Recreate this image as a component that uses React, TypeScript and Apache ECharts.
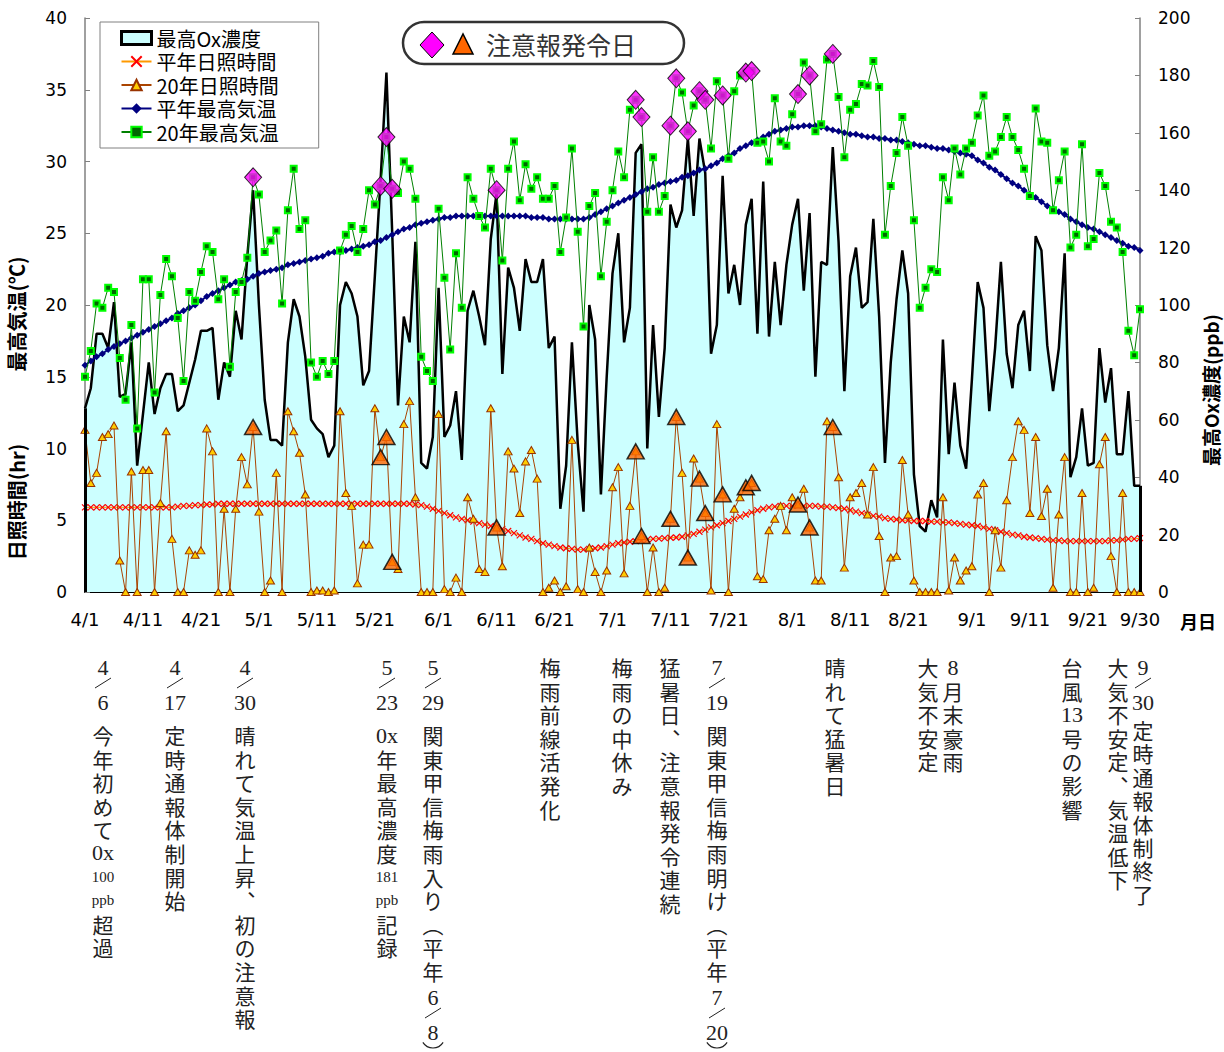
import React, { useEffect, useRef } from 'react';
import * as echarts from 'echarts';

// ---- categories (4/1 .. 9/30) ----
const monthLengths: [number, number][] = [[4, 30], [5, 31], [6, 30], [7, 31], [8, 31], [9, 30]];
const categories: string[] = [];
monthLengths.forEach(([m, n]) => { for (let d = 1; d <= n; d++) categories.push(`${m}/${d}`); });
const tickLabels = ['4/1', '4/11', '4/21', '5/1', '5/11', '5/21', '6/1', '6/11', '6/21', '7/1', '7/11', '7/21', '8/1', '8/11', '8/21', '9/1', '9/11', '9/21', '9/30'];

// ---- 最高Ox濃度 (ppb) ----
const ox = [
  64, 71, 90, 90, 85, 101, 68, 69, 87, 44,
  62, 80, 62, 71, 76, 76, 63, 65, 73, 81,
  91, 91, 92, 67, 80, 75, 98, 88, 117, 140,
  100, 67, 53, 53, 51, 87, 102, 96, 82, 60,
  57, 55, 47, 51, 100, 108, 104, 96, 72, 77,
  110, 144, 181, 125, 65, 96, 87, 122, 45, 43,
  54, 106, 54, 58, 70, 46, 98, 105, 96, 86,
  123, 139, 76, 113, 106, 91, 116, 108, 108, 116,
  85, 89, 29, 44, 87, 52, 28, 100, 88, 34,
  75, 111, 125, 87, 99, 153, 156, 50, 93, 61,
  85, 135, 127, 133, 158, 131, 158, 146, 83, 93,
  145, 104, 114, 100, 128, 137, 90, 143, 89, 115,
  93, 114, 128, 137, 105, 132, 75, 115, 114, 155,
  122, 70, 110, 120, 99, 101, 130, 96, 45, 80,
  102, 119, 104, 41, 23, 21, 32, 26, 88, 48,
  73, 51, 43, 74, 108, 99, 63, 85, 115, 83,
  71, 93, 98, 77, 124, 119, 86, 70, 85, 118,
  40, 47, 64, 44, 45, 85, 66, 78, 48, 48,
  70, 37, 37,
];

// ---- 平年日照時間 (hr) ----
const normSun = [
  5.9, 5.9, 5.9, 5.9, 5.9, 5.9, 5.9, 5.9, 5.9, 5.9,
  5.9, 5.9, 5.9, 5.9, 5.9, 5.9, 5.95, 6.0, 6.0, 6.05,
  6.05, 6.1, 6.1, 6.15, 6.15, 6.15, 6.15, 6.15, 6.15, 6.15,
  6.15, 6.15, 6.15, 6.15, 6.15, 6.15, 6.15, 6.15, 6.15, 6.15,
  6.15, 6.15, 6.15, 6.15, 6.15, 6.15, 6.15, 6.15, 6.15, 6.15,
  6.15, 6.15, 6.15, 6.15, 6.15, 6.15, 6.15, 6.1, 6.05, 5.95,
  5.8, 5.65, 5.5, 5.35, 5.2, 5.1, 5.0, 4.9, 4.8, 4.7,
  4.6, 4.5, 4.4, 4.25, 4.1, 3.95, 3.8, 3.7, 3.55, 3.4,
  3.3, 3.2, 3.1, 3.05, 3.0, 2.95, 2.95, 3.0, 3.05, 3.1,
  3.2, 3.3, 3.4, 3.45, 3.5, 3.55, 3.6, 3.65, 3.7, 3.72,
  3.75, 3.78, 3.8, 3.85, 3.95, 4.05, 4.2, 4.35, 4.5, 4.65,
  4.8, 4.95, 5.1, 5.25, 5.4, 5.55, 5.7, 5.8, 5.9, 5.95,
  6.0, 6.0, 6.0, 6.0, 6.0, 6.0, 6.0, 5.95, 5.95, 5.9,
  5.85, 5.8, 5.7, 5.6, 5.5, 5.4, 5.3, 5.25, 5.15, 5.1,
  5.05, 5.0, 5.0, 4.95, 4.95, 4.95, 4.9, 4.9, 4.85, 4.85,
  4.8, 4.75, 4.7, 4.65, 4.6, 4.5, 4.4, 4.3, 4.2, 4.1,
  4.0, 3.95, 3.85, 3.8, 3.75, 3.7, 3.65, 3.6, 3.6, 3.55,
  3.55, 3.55, 3.55, 3.55, 3.55, 3.55, 3.55, 3.6, 3.6, 3.65,
  3.7, 3.7, 3.75,
];

// ---- 20年日照時間 (hr) ----
const sun20 = [
  11.3, 7.6, 8.3, 10.8, 11.0, 11.6, 2.2, 0, 8.4, 0,
  8.5, 8.5, 0, 6.2, 11.2, 3.7, 0, 0, 2.9, 2.6,
  2.9, 11.4, 9.8, 0, 5.8, 0, 5.8, 9.4, 7.5, 11.5,
  5.6, 0, 0.8, 8.3, 0, 12.6, 11.2, 9.7, 6.8, 0,
  0.1, 0.1, 0, 0.1, 12.6, 6.9, 6.0, 0.6, 3.3, 3.3,
  12.8, 9.4, 10.8, 2.1, 1.6, 11.7, 13.3, 6.6, 0, 0,
  0, 12.4, 0.2, 0, 1.0, 0, 6.6, 5.1, 1.6, 1.4,
  12.8, 4.5, 1.8, 9.8, 8.6, 5.5, 9.1, 9.9, 7.9, 0,
  0.3, 0.8, 0, 0.4, 10.6, 0.2, 0, 3.1, 1.4, 0,
  1.5, 7.3, 8.7, 1.3, 6.0, 9.8, 3.9, 0, 3.1, 0,
  0.3, 5.1, 12.2, 8.3, 2.4, 9.3, 7.9, 5.5, 0.1, 11.7,
  6.8, 0, 5.8, 6.6, 7.3, 7.6, 1.1, 0.9, 4.3, 5.1,
  6.0, 4.3, 6.6, 6.1, 7.2, 4.5, 0.8, 0.8, 11.9, 11.5,
  8.0, 1.7, 6.6, 6.9, 7.6, 5.4, 8.7, 3.9, 0, 2.4,
  2.5, 9.2, 5.4, 0.8, 0, 0, 0, 0, 6.6, 0.1,
  2.4, 0.8, 1.5, 1.8, 6.8, 7.6, 0, 4.3, 1.7, 6.4,
  9.4, 11.9, 11.3, 5.5, 10.8, 5.3, 7.2, 0.3, 5.4, 9.4,
  0, 0, 6.9, 0, 0.3, 8.9, 10.8, 2.5, 0, 6.9,
  0, 0, 0,
];

// ---- 平年最高気温 (℃) ----
const normTemp = [
  15.8, 16.1, 16.4, 16.6, 16.9, 17.1, 17.3, 17.5, 17.7, 17.9,
  18.1, 18.3, 18.5, 18.7, 18.9, 19.1, 19.4, 19.6, 19.8, 20.0,
  20.3, 20.6, 20.8, 21.0, 21.2, 21.4, 21.6, 21.7, 21.8, 22.0,
  22.2, 22.3, 22.4, 22.5, 22.6, 22.8, 22.9, 23.0, 23.1, 23.2,
  23.3, 23.4, 23.6, 23.7, 23.7, 23.8, 23.9, 24.0, 24.1, 24.2,
  24.4, 24.5, 24.7, 24.9, 25.1, 25.3, 25.4, 25.6, 25.7, 25.8,
  25.9, 26.0, 26.1, 26.1, 26.2, 26.2, 26.2, 26.2, 26.2, 26.2,
  26.2, 26.2, 26.2, 26.2, 26.2, 26.2, 26.2, 26.1, 26.1, 26.1,
  26.0, 26.0, 26.0, 26.0, 26.0, 26.0, 26.0, 26.1, 26.3, 26.5,
  26.7, 26.9, 27.1, 27.3, 27.5, 27.7, 27.9, 28.1, 28.2, 28.4,
  28.5, 28.6, 28.7, 28.9, 29.0, 29.2, 29.4, 29.5, 29.7, 29.9,
  30.2, 30.4, 30.6, 30.9, 31.1, 31.3, 31.5, 31.7, 31.9, 32.1,
  32.2, 32.3, 32.4, 32.4, 32.5, 32.5, 32.5, 32.4, 32.3, 32.2,
  32.1, 32.0, 31.9, 31.9, 31.8, 31.7, 31.7, 31.6, 31.6, 31.5,
  31.5, 31.4, 31.3, 31.2, 31.1, 31.1, 31.0, 30.9, 30.9, 30.8,
  30.7, 30.6, 30.5, 30.4, 30.1, 29.9, 29.6, 29.4, 29.1, 28.8,
  28.5, 28.3, 28.0, 27.7, 27.5, 27.2, 26.9, 26.7, 26.5, 26.3,
  26.0, 25.8, 25.6, 25.4, 25.3, 25.1, 24.9, 24.7, 24.5, 24.3,
  24.1, 24.0, 23.8,
];

// ---- 20年最高気温 (℃) ----
const temp20 = [
  15.0, 16.8, 20.1, 19.8, 21.2, 20.9, 16.3, 13.4, 18.6, 11.4,
  21.8, 21.8, 13.9, 20.7, 23.2, 22.0, 19.1, 14.7, 20.9, 20.3,
  22.3, 24.1, 23.7, 20.4, 21.8, 15.7, 20.9, 21.6, 23.3, 28.9,
  27.7, 23.7, 24.5, 25.2, 20.1, 26.6, 29.5, 25.3, 25.9, 16.0,
  15.0, 16.1, 15.2, 16.1, 23.8, 24.9, 25.5, 23.7, 25.3, 28.0,
  27.0, 28.3, 31.7, 28.1, 27.8, 30.0, 29.5, 27.4, 16.4, 15.4,
  14.7, 26.7, 21.9, 16.9, 23.6, 19.8, 28.9, 27.4, 26.2, 25.4,
  29.5, 28.0, 23.1, 29.5, 31.4, 27.3, 29.8, 28.1, 28.9, 27.4,
  27.4, 28.3, 23.7, 26.1, 30.9, 25.1, 18.5, 26.9, 27.8, 22.0,
  25.8, 28.0, 30.7, 28.9, 33.6, 34.3, 33.1, 26.5, 30.3, 26.5,
  27.6, 32.5, 35.8, 34.8, 32.1, 33.9, 34.9, 34.3, 30.9, 35.6,
  34.6, 30.2, 34.9, 36.0, 36.2, 36.3, 31.3, 31.4, 30.0, 34.4,
  31.4, 31.1, 33.3, 34.7, 36.9, 36.0, 32.1, 32.6, 37.1, 37.5,
  34.5, 30.3, 33.6, 34.0, 35.4, 35.3, 37.0, 35.2, 24.9, 28.3,
  30.6, 33.1, 31.1, 25.9, 19.8, 21.2, 22.5, 22.3, 28.9, 27.3,
  30.9, 29.1, 30.9, 31.3, 33.2, 34.6, 30.4, 30.7, 31.7, 33.1,
  31.7, 30.8, 29.5, 27.6, 33.7, 31.4, 31.3, 26.6, 28.7, 30.7,
  24.0, 24.9, 31.2, 24.1, 24.6, 29.2, 28.3, 25.8, 25.4, 23.7,
  18.2, 16.5, 19.7,
];

// ---- 注意報発令日 (day index from 4/1) ----
const alertDays = [29, 51, 52, 53, 71, 95, 96, 101, 102, 104, 106, 107, 110, 114, 115, 123, 125, 129];

// ---- annotation texts (vertical columns) ----
type Seg = { y: number; toks: string[]; step?: number };
type Col = { x: number; frac?: [number, string, string][]; segs: Seg[]; closeParenY?: number };
const sp = (s: string) => Array.from(s);
const annotations: Col[] = [
  { x: 103, frac: [[667, '4', '6']], segs: [{ y: 735, toks: ['今', '年', '初', 'め', 'て', '0x', '~100', '~ppb', '超', '過'] }] },
  { x: 175, frac: [[667, '4', '17']], segs: [{ y: 735, toks: sp('定時通報体制開始') }] },
  { x: 245, frac: [[667, '4', '30']], segs: [{ y: 735, toks: sp('晴れて気温上昇︑初の注意報') }] },
  { x: 387, frac: [[667, '5', '23']], segs: [{ y: 735, toks: ['0x', '年', '最', '高', '濃', '度', '~181', '~ppb', '記', '録'] }] },
  { x: 433, frac: [[667, '5', '29'], [997, '6', '8']], segs: [{ y: 735, toks: sp('関東甲信梅雨入り︵平年') }], closeParenY: 1036 },
  { x: 550, segs: [{ y: 667, toks: sp('梅雨前線活発化') }] },
  { x: 622, segs: [{ y: 667, toks: sp('梅雨の中休み') }] },
  { x: 670, segs: [{ y: 667, toks: sp('猛暑日︑注意報発令連続') }] },
  { x: 717, frac: [[667, '7', '19'], [997, '7', '20']], segs: [{ y: 735, toks: sp('関東甲信梅雨明け︵平年') }], closeParenY: 1036 },
  { x: 835, segs: [{ y: 667, toks: sp('晴れて猛暑日') }] },
  { x: 953, segs: [{ y: 667, toks: ['8', '月', '末', '豪', '雨'] }] },
  { x: 928, segs: [{ y: 667, toks: sp('大気不安定') }] },
  { x: 1072, segs: [{ y: 667, toks: ['台', '風', '13', '号', 'の', '影', '響'] }] },
  { x: 1143, frac: [[667, '9', '30']], segs: [{ y: 730, toks: sp('定時通報体制終了'), step: 23.4 }] },
  { x: 1118, segs: [{ y: 667, toks: sp('大気不安定︑気温低下') }] },
];

const CJK = '"Noto Sans CJK JP", sans-serif';
const SERIF = '"Liberation Serif", "DejaVu Serif", serif';
const INK = '#222';

function buildAnnotationGraphics() {
  const els: any[] = [];
  annotations.forEach(({ x, frac, segs, closeParenY }) => {
    (frac || []).forEach(([y, a, b]) => {
      els.push({ type: 'text', x, y, silent: true, style: { text: a, font: `22px ${SERIF}`, fill: INK, align: 'center', verticalAlign: 'middle', textAlign: 'center', textVerticalAlign: 'middle' } });
      els.push({ type: 'line', silent: true, shape: { x1: x - 8, y1: y + 21, x2: x + 8, y2: y + 11 }, style: { stroke: INK, lineWidth: 1 } });
      els.push({ type: 'text', x, y: y + 35, silent: true, style: { text: b, font: `22px ${SERIF}`, fill: INK, align: 'center', verticalAlign: 'middle', textAlign: 'center', textVerticalAlign: 'middle' } });
    });
    segs.forEach(({ y, toks, step }) => {
      const st = step || 23.6;
      const text = toks.map((t) => {
        if (t.startsWith('~')) return `{s|${t.slice(1)}}`;
        if (/[0-9a-zA-Z]/.test(t)) return `{d|${t}}`;
        return `{c|${t}}`;
      }).join('\n');
      els.push({
        type: 'text', x, y: y - st / 2, silent: true,
        style: {
          text, fill: INK, align: 'center', verticalAlign: 'top', textAlign: 'center', textVerticalAlign: 'top',
          rich: {
            c: { fontFamily: CJK, fontSize: 21, lineHeight: st, align: 'center', fill: INK, color: INK },
            d: { fontFamily: SERIF, fontSize: 22, lineHeight: st, align: 'center', fill: INK, color: INK },
            s: { fontFamily: SERIF, fontSize: 15, lineHeight: st, align: 'center', fill: INK, color: INK },
          },
        },
      });
    });
    if (closeParenY) {
      els.push({ type: 'arc', silent: true, shape: { cx: x, cy: closeParenY, r: 12, startAngle: Math.PI * 0.18, endAngle: Math.PI * 0.82 }, style: { stroke: INK, lineWidth: 1.2, fill: 'none' } });
    }
  });
  return els;
}

export default function App() {
  const ref = useRef<HTMLDivElement>(null);
  useEffect(() => {
    document.body.style.margin = '0';
    if (!ref.current) return;
    const chart = echarts.init(ref.current, null, { renderer: 'svg' });
    const labelIdx = (i: number, v: string) => tickLabels.includes(v);
    const option: any = {
      animation: false,
      backgroundColor: '#ffffff',
      grid: { left: 85, right: 84, top: 18, bottom: 460, containLabel: false },
      legend: {
        orient: 'vertical', left: 100, top: 22,
        padding: [6, 40, 6, 20], itemGap: 3.5, itemWidth: 30, itemHeight: 13,
        backgroundColor: '#ffffff', borderColor: '#808080', borderWidth: 1,
        textStyle: { fontFamily: CJK, fontSize: 20, color: '#000', lineHeight: 20 },
        data: [
          { name: '最高Ox濃度', icon: 'rect', itemStyle: { color: '#ccffff', borderColor: '#000', borderWidth: 3 } },
          '平年日照時間', '20年日照時間', '平年最高気温', '20年最高気温',
        ],
      },
      xAxis: {
        type: 'category', data: categories, boundaryGap: false,
        axisLine: { lineStyle: { color: '#000', width: 2 } },
        axisTick: { show: true, inside: true, length: 4, interval: (i: number) => i > 0 && i % 30 === 0, lineStyle: { color: '#000' } },
        axisLabel: { interval: labelIdx, margin: 18, fontSize: 18, fontFamily: '"DejaVu Sans", sans-serif', color: '#000' },
        splitLine: { show: false },
      },
      yAxis: [
        {
          type: 'value', min: 0, max: 40, interval: 5, position: 'left',
          axisLine: { show: true, lineStyle: { color: '#808080', width: 1.5 } },
          axisTick: { show: true, inside: true, length: 5, lineStyle: { color: '#808080' } },
          axisLabel: { margin: 18, fontSize: 17, fontFamily: '"DejaVu Sans", sans-serif', color: '#000' },
          splitLine: { show: false },
        },
        {
          type: 'value', min: 0, max: 200, interval: 20, position: 'right',
          axisLine: { show: true, lineStyle: { color: '#808080', width: 1.5 } },
          axisTick: { show: true, inside: true, length: 5, lineStyle: { color: '#808080' } },
          axisLabel: { margin: 18, fontSize: 17, fontFamily: '"DejaVu Sans", sans-serif', color: '#000' },
          splitLine: { show: false },
        },
      ],
      series: [
        {
          name: '最高Ox濃度', type: 'line', yAxisIndex: 1, data: ox, symbol: 'none', z: 1,
          lineStyle: { color: '#000', width: 2.5 }, itemStyle: { color: '#000' },
          areaStyle: { color: '#ccffff', opacity: 1 },
          markLine: {
            silent: true, symbol: ['none', 'none'], label: { show: false },
            lineStyle: { color: '#000', width: 3, type: 'solid' },
            data: [
              [{ coord: [categories[0], 0] }, { coord: [categories[0], ox[0]] }],
              [{ coord: [categories[categories.length - 1], 0] }, { coord: [categories[categories.length - 1], ox[ox.length - 1]] }],
            ],
          },
        },
        {
          name: '平年日照時間', type: 'line', yAxisIndex: 0, data: normSun, z: 3, showAllSymbol: true,
          symbol: 'path://M0,0L10,10M10,0L0,10', symbolSize: 6,
          lineStyle: { color: '#ff9900', width: 1 },
          itemStyle: { color: 'rgba(0,0,0,0)', borderColor: '#ff0000', borderWidth: 1.2 },
        },
        {
          name: '20年日照時間', type: 'line', yAxisIndex: 0, data: sun20, z: 4, showAllSymbol: true,
          symbol: 'triangle', symbolSize: [8, 7],
          lineStyle: { color: '#aa4400', width: 1 },
          itemStyle: { color: '#ffcc00', borderColor: '#993300', borderWidth: 1 },
        },
        {
          name: '平年最高気温', type: 'line', yAxisIndex: 0, data: normTemp, z: 3, showAllSymbol: true,
          symbol: 'diamond', symbolSize: 7,
          lineStyle: { color: '#000080', width: 2 },
          itemStyle: { color: '#000080' },
        },
        {
          name: '20年最高気温', type: 'line', yAxisIndex: 0, data: temp20, z: 4, showAllSymbol: true,
          symbol: 'rect', symbolSize: 6,
          lineStyle: { color: '#008000', width: 1 },
          itemStyle: { color: '#006600', borderColor: '#00ff00', borderWidth: 2 },
        },
        {
          name: '注意報(気温)', type: 'scatter', yAxisIndex: 0, z: 10,
          data: alertDays.map((d) => [d, temp20[d]]),
          symbol: 'diamond', symbolSize: [17, 19],
          itemStyle: { color: '#ff00ff', borderColor: '#000', borderWidth: 1 },
        },
        {
          name: '注意報(日照)', type: 'scatter', yAxisIndex: 0, z: 10,
          data: alertDays.map((d) => [d, sun20[d]]),
          symbol: 'triangle', symbolSize: [17, 15],
          itemStyle: { color: '#ff6600', borderColor: '#000', borderWidth: 1.5 },
        },
      ],
      graphic: [
        // 注意報発令日 box
        { type: 'rect', shape: { x: 403, y: 22, width: 281, height: 42, r: 21 }, style: { fill: '#fff', stroke: '#333', lineWidth: 2.5 }, z: 20, silent: true },
        { type: 'polygon', shape: { points: [[420, 45], [432, 32], [444, 45], [432, 58]] }, style: { fill: '#ff00ff', stroke: '#000', lineWidth: 1 }, z: 21, silent: true },
        { type: 'polygon', shape: { points: [[453, 54], [463, 34], [473, 54]] }, style: { fill: '#ff6600', stroke: '#000', lineWidth: 1.5 }, z: 21, silent: true },
        { type: 'text', x: 486, y: 44, z: 21, silent: true, style: { text: '注意報発令日', font: `25px ${CJK}`, fill: '#333', align: 'left', verticalAlign: 'middle', textAlign: 'left', textVerticalAlign: 'middle' } },
        // axis names
        { type: 'text', x: 16, y: 314, rotation: Math.PI / 2, silent: true, style: { text: '最高気温(℃)', font: `bold 20px ${CJK}`, fill: '#000', align: 'center', verticalAlign: 'middle', textAlign: 'center', textVerticalAlign: 'middle' } },
        { type: 'text', x: 16, y: 502, rotation: Math.PI / 2, silent: true, style: { text: '日照時間(hr)', font: `bold 20px ${CJK}`, fill: '#000', align: 'center', verticalAlign: 'middle', textAlign: 'center', textVerticalAlign: 'middle' } },
        { type: 'text', x: 1210, y: 390, rotation: Math.PI / 2, silent: true, style: { text: '最高Ox濃度(ppb)', font: `bold 19px ${CJK}`, fill: '#000', align: 'center', verticalAlign: 'middle', textAlign: 'center', textVerticalAlign: 'middle' } },
        { type: 'text', x: 1198, y: 621, silent: true, style: { text: '月日', font: `bold 18px ${CJK}`, fill: '#000', align: 'center', verticalAlign: 'middle', textAlign: 'center', textVerticalAlign: 'middle' } },
        ...buildAnnotationGraphics(),
      ],
    };
    chart.setOption(option);
    return () => chart.dispose();
  }, []);
  return <div ref={ref} style={{ width: 1224, height: 1052 }} />;
}
